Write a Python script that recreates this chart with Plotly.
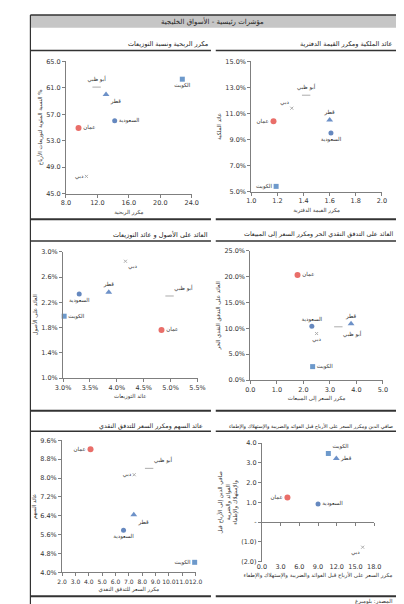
import plotly.graph_objects as go

W, H = 404, 604

# ---------------- data ----------------
countries = ["الكويت", "السعودية", "قطر", "عمان", "أبو ظبي", "دبي"]

# P1: مكرر الربحية / نسبة التوزيعات
pe = [22.8, 14.2, 13.1, 9.6, 11.9, 10.6]
payout = [62.3, 56.0, 60.0, 54.9, 61.1, 47.6]

# P2: مكرر القيمة الدفترية / عائد الملكية
pbv = [1.19, 1.61, 1.60, 1.17, 1.42, 1.31]
roe = [0.054, 0.095, 0.105, 0.104, 0.124, 0.114]

# P3: عائد التوزيعات / العائد على الأصول
div_yield = [0.0302, 0.0330, 0.0385, 0.0483, 0.0498, 0.0416]
roa = [0.0198, 0.0233, 0.0236, 0.0176, 0.0230, 0.0285]

# P4: مكرر السعر إلى المبيعات / العائد على التدفق النقدي الحر
ps = [2.35, 2.32, 3.80, 1.78, 3.32, 2.50]
fcf_yield = [0.026, 0.104, 0.109, 0.203, 0.103, 0.090]

# P5: مكرر السعر للتدفق النقدي / عائد السهم
pcf = [11.93, 6.6, 7.37, 4.13, 8.52, 7.4]
earn_yield = [0.0443, 0.0579, 0.0645, 0.0922, 0.0841, 0.0814]

# P6: EV/EBITDA / صافي الدين إلى EBITDA
ev_ebitda = [10.65, 9.0, 11.93, 4.1, None, 16.15]
nd_ebitda = [3.48, 0.92, 3.23, 1.25, None, -1.27]

p6_ytickvals = [-2, -1, 0, 1, 2, 3, 4]
p6_yticktext = ["(2.0)", "(1.0)", "-", "1.0", "2.0", "3.0", "4.0"]

main_title = "مؤشرات رئيسية - الأسواق الخليجية"
source_text = "المصدر: بلومبرغ"

# ---------------- styles ----------------
FONT = "DejaVu Sans"
symbols = ["square", "circle", "triangle-up", "circle", "line-ew", "x-thin"]
colors = ["#2f6db5", "#2456a4", "#2f62b0", "#e0302a", "#8a8a8a", "#8a8a8a"]
sizes = [5, 5, 6, 6, 6, 3]
line_w = [0, 0, 0, 0, 1, 1]

def px_x(p):
    return p / W

def px_y(p):
    return 1 - p / H

panels = [
    dict(x=pe, y=payout, pos=["bottom center", "middle right", "bottom right", "middle right", "top center", "middle left"],
         dx=[px_x(52), px_x(183)], dy=[px_y(184), px_y(50)], xr=[8, 24], yr=[45, 65],
         xd=4, yd=4, xf=".1f", yf=".1f",
         xt="مكرر الربحية", yt="النسبة المئوية لتوزيعات الأرباح %",
         title="مكرر الربحية ونسبة التوزيعات", tx=px_x(202), ty=px_y(32), ts=6.5),
    dict(x=pbv, y=roe, pos=["middle left", "bottom center", "top center", "middle left", "top center", "top left"],
         dx=[px_x(245), px_x(381)], dy=[px_y(182), px_y(50)], xr=[1, 2], yr=[0.05, 0.15],
         xd=0.2, yd=0.02, xf=".1f", yf=".1%",
         xt="مكرر القيمة الدفترية", yt="عائد الملكية",
         title="عائد الملكية ومكرر القيمة الدفترية", tx=px_x(395), ty=px_y(32), ts=6.5),
    dict(x=div_yield, y=roa, pos=["middle right", "bottom center", "top center", "middle right", "top right", "bottom right"],
         dx=[px_x(49), px_x(189)], dy=[px_y(371), px_y(243)], xr=[0.03, 0.055], yr=[0.01, 0.03],
         xd=0.005, yd=0.004, xf=".1%", yf=".1%",
         xt="عائد التوزيعات", yt="العائد على الأصول",
         title="العائد على الأصول و عائد التوزيعات", tx=px_x(202), ty=px_y(225), ts=6.5),
    dict(x=ps, y=fcf_yield, pos=["middle right", "top center", "top center", "middle right", "bottom right", "bottom center"],
         dx=[px_x(244), px_x(382)], dy=[px_y(373), px_y(242)], xr=[0, 5], yr=[0, 0.25],
         xd=1, yd=0.05, xf=".1f", yf=".1%",
         xt="مكرر السعر إلى المبيعات", yt="العائد على التدفق النقدي الحر",
         title="العائد على التدفق النقدي الحر ومكرر السعر إلى المبيعات", tx=px_x(395), ty=px_y(225), ts=6.3),
    dict(x=pcf, y=earn_yield, pos=["middle left", "bottom center", "bottom right", "middle left", "top right", "middle left"],
         dx=[px_x(48), px_x(187)], dy=[px_y(568), px_y(434)], xr=[2, 12], yr=[0.04, 0.096],
         xd=1, yd=0.008, xf=".1f", yf=".1%",
         xt="مكرر السعر للتدفق النقدي", yt="عائد السهم",
         title="عائد السهم ومكرر السعر للتدفق النقدي", tx=px_x(197), ty=px_y(420), ts=6.3),
    dict(x=ev_ebitda, y=nd_ebitda, pos=["top right", "middle right", "middle right", "middle left", "top center", "bottom left"],
         dx=[px_x(256), px_x(373)], dy=[px_y(557), px_y(437)], xr=[0, 18], yr=[-2, 4],
         xd=3, yd=1, xf=".1f", yf=None,
         xt="مكرر السعر على الأرباح قبل الفوائد والضريبة والإستهلاك والإطفاء",
         yt="صافي الدين إلى الأرباح قبل<br>الفوائد والضريبة<br>والإستهلاك والإطفاء",
         title="صافي الدين ومكرر السعر على الأرباح قبل الفوائد والضريبة والإستهلاك والإطفاء",
         tx=px_x(395), ty=px_y(420), ts=5.0),
]

fig = go.Figure()
layout = dict(
    width=W, height=H, margin=dict(l=0, r=0, t=0, b=0),
    paper_bgcolor="white", plot_bgcolor="white", showlegend=False,
    font=dict(family=FONT, size=6, color="#333333"),
)
annotations = []
shapes = []

for i, p in enumerate(panels, start=1):
    xa = "x" if i == 1 else f"x{i}"
    ya = "y" if i == 1 else f"y{i}"
    fig.add_trace(go.Scatter(
        x=p["x"], y=p["y"], text=countries, mode="markers+text",
        textposition=p["pos"], cliponaxis=False,
        textfont=dict(family=FONT, size=5.5, color="#333333"),
        marker=dict(symbol=symbols, color=colors, size=sizes,
                    line=dict(color=colors, width=line_w)),
        xaxis=xa, yaxis=ya, hoverinfo="skip",
    ))
    xkey = "xaxis" if i == 1 else f"xaxis{i}"
    ykey = "yaxis" if i == 1 else f"yaxis{i}"
    xaxis = dict(domain=p["dx"], range=p["xr"], dtick=p["xd"], tick0=p["xr"][0],
                 tickformat=p["xf"], anchor=ya, showgrid=False, zeroline=False,
                 showline=True, linecolor="#7f7f7f", linewidth=1,
                 ticks="outside", ticklen=3, tickcolor="#7f7f7f", tickangle=0,
                 tickfont=dict(size=6.5 if i != 5 else 6, color="#333333"),
                 title=dict(text=p["xt"], font=dict(size=5.5, color="#333333"), standoff=3))
    yaxis = dict(domain=p["dy"], range=p["yr"], anchor=xa, showgrid=False, zeroline=False,
                 showline=True, linecolor="#7f7f7f", linewidth=1,
                 ticks="outside", ticklen=3, tickcolor="#7f7f7f",
                 tickfont=dict(size=6.5, color="#333333"),
                 title=dict(text=p["yt"], font=dict(size=5.5, color="#333333"), standoff=3))
    if p["yf"] is None:
        yaxis.update(tickmode="array", tickvals=p6_ytickvals, ticktext=p6_yticktext)
    else:
        yaxis.update(dtick=p["yd"], tick0=p["yr"][0], tickformat=p["yf"])
    if i == 6:
        xaxis.update(showline=False, ticks="")
    layout[xkey] = xaxis
    layout[ykey] = yaxis
    annotations.append(dict(text=p["title"], x=p["tx"], y=p["ty"], xref="paper", yref="paper",
                            xanchor="right", yanchor="middle", showarrow=False,
                            font=dict(family=FONT, size=p["ts"], color="#222222")))

# x-axis line through zero for the last panel
p6 = panels[5]
zero_pos = p6["dy"][0] + (p6["dy"][1] - p6["dy"][0]) * (0 - p6["yr"][0]) / (p6["yr"][1] - p6["yr"][0])
layout["xaxis7"] = dict(domain=p6["dx"], range=p6["xr"], dtick=p6["xd"], tick0=0,
                        overlaying="x6", anchor="free", position=zero_pos,
                        showticklabels=False, showgrid=False, zeroline=False,
                        showline=True, linecolor="#7f7f7f", linewidth=1,
                        ticks="outside", ticklen=3, tickcolor="#7f7f7f")
fig.add_trace(go.Scatter(x=[None], y=[None], xaxis="x7", yaxis="y6", showlegend=False, hoverinfo="skip"))

# page frame / title bar
shapes.append(dict(type="rect", xref="paper", yref="paper", x0=px_x(15), x1=px_x(397),
                   y0=px_y(16), y1=px_y(3), fillcolor="#c6c6c6", line=dict(width=0)))
shapes.append(dict(type="line", xref="paper", yref="paper", x0=px_x(15), x1=px_x(398),
                   y0=px_y(3), y1=px_y(3), line=dict(color="#333333", width=1.5)))
shapes.append(dict(type="line", xref="paper", yref="paper", x0=px_x(15), x1=px_x(15),
                   y0=px_y(3), y1=0, line=dict(color="#333333", width=1.2)))
shapes.append(dict(type="line", xref="paper", yref="paper", x0=px_x(397), x1=px_x(397),
                   y0=px_y(3), y1=px_y(16), line=dict(color="#333333", width=1.5)))
for yy, wdt in [(39, 1.5), (210, 2), (232, 1.5), (404, 2), (425, 1.5), (592, 2)]:
    for x0, x1 in [(15, 203), (208, 397)]:
        shapes.append(dict(type="line", xref="paper", yref="paper", x0=px_x(x0), x1=px_x(x1),
                           y0=px_y(yy), y1=px_y(yy), line=dict(color="#333333", width=wdt)))

annotations.append(dict(text=main_title, x=px_x(205), y=px_y(10), xref="paper", yref="paper",
                        xanchor="center", yanchor="middle", showarrow=False,
                        font=dict(family=FONT, size=7, color="#222222")))
annotations.append(dict(text=source_text, x=px_x(395), y=px_y(597), xref="paper", yref="paper",
                        xanchor="right", yanchor="middle", showarrow=False,
                        font=dict(family=FONT, size=5.5, color="#333333")))

layout["annotations"] = annotations
layout["shapes"] = shapes
fig.update_layout(**layout)
fig.write_html("out.html")
